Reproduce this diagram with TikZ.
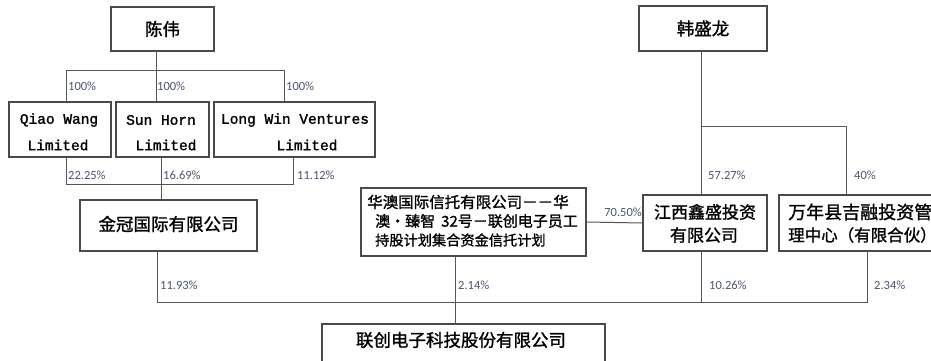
\documentclass[tikz,border=0pt]{standalone}
\usepackage{fontspec}
\newfontfamily\cjk[FakeBold=1.2]{Noto Sans CJK SC}
\newfontfamily\pct{Carlito}
\newfontfamily\lat[FakeBold=1.5]{Liberation Mono}
\definecolor{pcol}{HTML}{4A5670}
\definecolor{lcol}{HTML}{555555}
\definecolor{bcol}{HTML}{4A4A4A}
\begin{document}
\begin{tikzpicture}[x=1pt,y=-1pt,
  box/.style={draw=bcol, line width=1.2pt, rectangle, inner sep=0pt},
  ln/.style={draw=lcol, line width=1pt},
  pl/.style={font=\pct\fontsize{12.5}{12.5}\selectfont, text=pcol, anchor=west, inner sep=1pt},
  big/.style={font=\cjk\fontsize{17.5}{17.5}\selectfont, inner sep=0pt},
  mid/.style={font=\cjk\fontsize{17}{17}\selectfont, inner sep=0pt},
  sml/.style={font=\cjk\fontsize{15}{15}\selectfont, inner sep=0pt, anchor=west},
  en/.style={font=\lat\fontsize{14.5}{14.5}\selectfont, inner sep=0pt}]
\useasboundingbox (0,0) rectangle (931,361);
\clip (0,0) rectangle (931,361);
\fill[white] (0,0) rectangle (931,361);
% boxes
\node[box, minimum width=103pt, minimum height=44pt] (cw) at (162.5,29) {};
\node[big] (cwt) at (162.5,29) {陈伟};
\node[box, minimum width=102pt, minimum height=55pt] (qw) at (60,129.5) {};
\node[box, minimum width=93pt, minimum height=55pt] (sh) at (162.5,129.5) {};
\node[box, minimum width=161pt, minimum height=55pt] (lw) at (294.5,129.5) {};
\node[en] (qwa) at (59,120) {Qiao Wang};
\node[en] (qwb) at (58,145) {Limited};
\node[en] (sha) at (161,120) {Sun Horn};
\node[en] (shb) at (166,145) {Limited};
\node[en] (lwa) at (295,120) {Long Win Ventures};
\node[en] (lwb) at (307,145) {Limited};
\node[box, minimum width=177pt, minimum height=51pt] (jg) at (168.5,225.5) {};
\node[big] (jgt) at (168.5,224) {金冠国际有限公司};
\node[box, minimum width=225pt, minimum height=68pt] (ha) at (473.5,222) {};
\node[sml, font=\cjk\fontsize{15.5}{15.5}\selectfont] (haa) at (367,202) {华澳国际信托有限公司－－华};
\node[sml] (hab) at (375,221) {澳·臻智\hspace{0.4em}32号－联创电子员工};
\node[sml, font=\cjk\fontsize{14.2}{14.2}\selectfont] (hac) at (375,240) {持股计划集合资金信托计划};
\node[box, minimum width=128pt, minimum height=45pt] (hs) at (703,28.5) {};
\node[big] (hst) at (703,28.5) {韩盛龙};
\node[box, minimum width=124pt, minimum height=56pt] (jx) at (705,223) {};
\node[mid] (jxa) at (705,212) {江西鑫盛投资};
\node[mid] (jxb) at (704,235) {有限公司};
\node[box, minimum width=221pt, minimum height=56pt] (wn) at (889.5,223) {};
\node[mid, anchor=west, font=\cjk\fontsize{18}{18}\selectfont] (wna) at (788,212) {万年县吉融投资管};
\node[mid, anchor=west, font=\cjk\fontsize{16.5}{16.5}\selectfont] (wnb) at (788,235) {理中心（有限合伙）};
\node[box, minimum width=283pt, minimum height=44pt] (lc) at (463.5,346) {};
\node[big] (lct) at (461,340) {联创电子科技股份有限公司};
% coordinates
\coordinate (t1) at (66,70);
\coordinate (t2) at (156,70);
\coordinate (t3) at (284,70);
\coordinate (s1) at (66,184);
\coordinate (s2) at (161,184);
\coordinate (s3) at (293,184);
\coordinate (u1) at (157,302);
\coordinate (u2) at (455,302);
\coordinate (u3) at (701,302);
\coordinate (u4) at (867,302);
\coordinate (h1) at (701,126);
\coordinate (h2) at (846,126);
% connectors
\draw[ln] (cw.south -| t2) -- (t2);
\draw[ln] (t1 |- qw.north) -- (t1) -- (t3) -- (t3 |- lw.north);
\draw[ln] (t2) -- (t2 |- sh.north);
\draw[ln] (qw.south -| s1) -- (s1) -- (s3) -- (lw.south -| s3);
\draw[ln] (sh.south -| s2) -- (s2 |- jg.north);
\draw[ln] (jg.south -| u1) -- (u1) -- (u4) -- (wn.south -| u4);
\draw[ln] (jx.south -| u3) -- (u3);
\draw[ln] (ha.south -| u2) -- (u2 |- lc.north);
\draw[ln] (ha.east) -- (jx.west);
\draw[ln] (hs.south -| h1) -- (h1 |- jx.north);
\draw[ln] (h1) -- (h2) -- (h2 |- wn.north);
% labels
\node[pl] (p1) at (67,86) {100\%};
\node[pl] (p2) at (156,86) {100\%};
\node[pl] (p3) at (285,86) {100\%};
\node[pl] (p4) at (67,175) {22.25\%};
\node[pl] (p5) at (162,175) {16.69\%};
\node[pl] (p6) at (296,175) {11.12\%};
\node[pl] (p7) at (159,285) {11.93\%};
\node[pl] (p8) at (457,285) {2.14\%};
\node[pl] (p9) at (708,285) {10.26\%};
\node[pl] (p10) at (873,285) {2.34\%};
\node[pl] (p11) at (707,175) {57.27\%};
\node[pl] (p12) at (853,175) {40\%};
\node[pl, anchor=east] (p13) at (643,212) {70.50\%};
\end{tikzpicture}
\end{document}
